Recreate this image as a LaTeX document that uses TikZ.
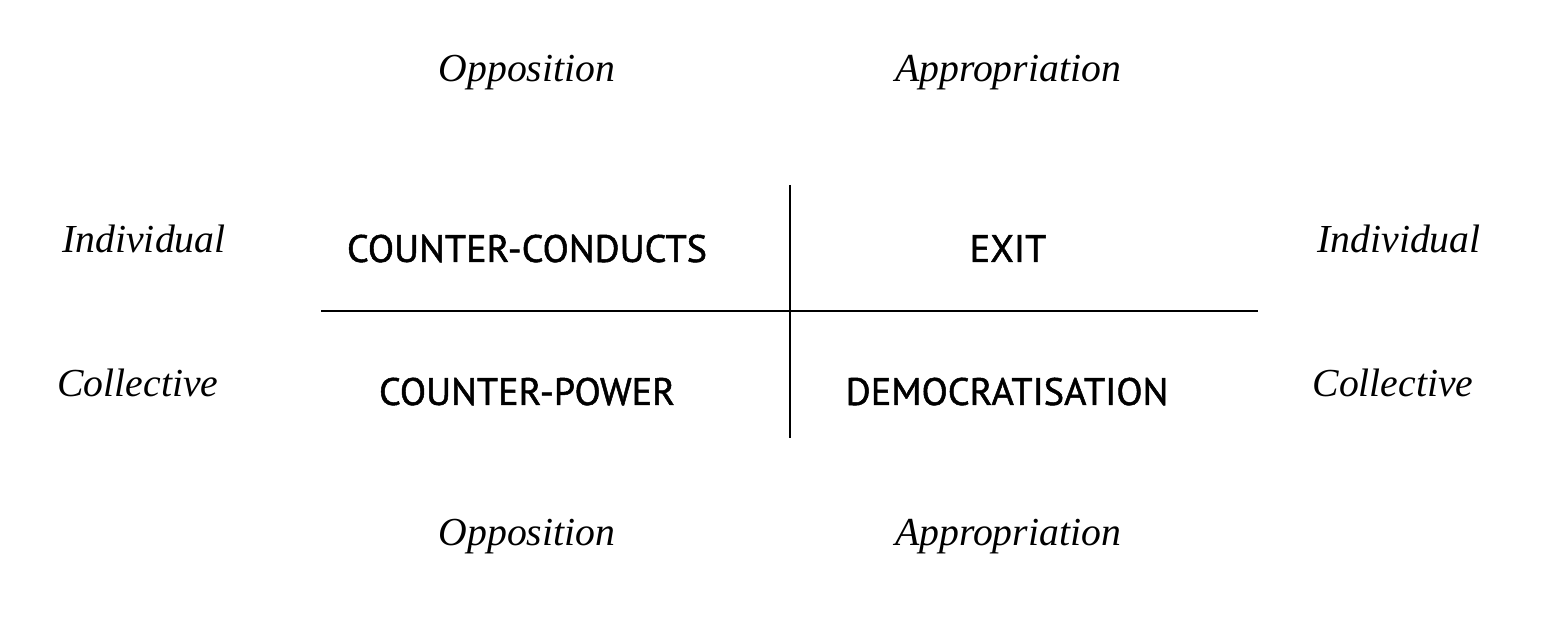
\documentclass[tikz,border=0pt]{standalone}
\usepackage{fontspec}
\setmainfont{Liberation Serif}
\newfontfamily\capsfont[FakeBold=1.3]{PT Sans}
\usepackage{tikz}
\usetikzlibrary{positioning}
\tikzstyle{axis}=[font=\itshape\fontsize{11.3}{13}\selectfont,anchor=base,inner sep=0pt]
\tikzstyle{cell}=[font=\capsfont\fontsize{10.9}{13}\selectfont,anchor=base,inner sep=0pt]
\tikzstyle{divider}=[draw,line width=0.6pt]

\begin{document}
\begin{tikzpicture}

 \useasboundingbox (0,0) rectangle (15.56,6.39);

 %Axis labels
   \foreach \x/\y/\name/\label in { 5.27/5.57/oppT/Opposition, 10.08/5.57/appT/Appropriation,
          5.27/0.93/oppB/Opposition, 10.08/0.93/appB/Appropriation,
          1.44/3.86/indL/Individual, 13.99/3.86/indR/Individual,
          1.38/2.42/colL/Collective, 13.93/2.42/colR/Collective}
          \node[axis] (\name) at (\x, \y) {\label};

 %Quadrants
   \foreach \x/\y/\name/\label in { 5.27/3.77/cc/COUNTER-CONDUCTS, 10.08/3.77/exit/EXIT,
          5.27/2.34/cp/COUNTER-POWER, 10.07/2.34/dem/DEMOCRATISATION}
          \node[cell] (\name) at (\x, \y) {\label};

 \coordinate (top) at (7.90,4.54);
 \coordinate (bot) at (7.90,2.01);
 \coordinate (left) at (3.21,3.28);
 \coordinate (right) at (12.58,3.28);

  \foreach \source/ \dest in {top/bot, left/right}
         \path[divider] (\source) -- (\dest);

\end{tikzpicture}
\end{document}
